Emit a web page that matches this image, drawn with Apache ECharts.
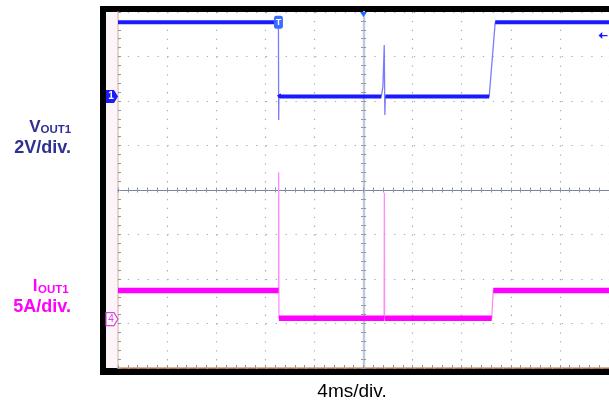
<!DOCTYPE html>
<html><head><meta charset="utf-8">
<script src="https://cdn.jsdelivr.net/npm/echarts@6/dist/echarts.min.js"></script>
<style>html,body{margin:0;padding:0;background:#fff}#c{width:609px;height:404px}</style>
</head><body><div id="c"></div>
<script>
// ---- data (time in ms, 4 ms/div, 10 div) ----
const timeRangeMs = [-20, 20];
const timeStepMs = 4;
const divRange = [-4, 4];

// Channel 1: VOUT1 (2 V/div), ground at +2.1 div
const vScalePerDiv = 2;
const vGroundDiv = 2.1;
const vTimeMs = [-20, -6.93, -6.91, -6.89, -6.80, 1.45, 1.58, 1.69, 1.74, 1.78, 10.24, 10.73, 20];
const vVolts  = [3.34, 3.34, -1.05, 0.10, 0.00, 0.00, 0.45, 2.32, -0.83, 0.00, 0.00, 3.34, 3.34];

// Channel 4: IOUT1 (5 A/div), ground at -2.9 div
const iScalePerDiv = 5;
const iGroundDiv = -2.9;
const iTimeMs = [-20, -6.92, -6.91, -6.89, 1.68, 1.70, 1.72, 10.45, 10.57, 20];
const iAmps   = [3.21, 3.21, 16.5, 0.10, 0.10, 14.2, 0.10, 0.10, 3.21, 3.21];

const triggerLevelV = 2.74;

// ---- helpers ----
const zip = (a, b) => a.map((t, k) => [t, b[k]]);
function plateaus(ts, vs, tol) {
  const out = [];
  for (let k = 0; k < ts.length - 1; k++) {
    if (Math.abs(vs[k + 1] - vs[k]) <= tol) {
      out.push([ts[k], vs[k]], [ts[k + 1], vs[k + 1]]);
    } else {
      out.push([ts[k], '-']);
    }
  }
  return out;
}
const chMin = (scale, g) => (divRange[0] - g) * scale;
const chMax = (scale, g) => (divRange[1] - g) * scale;

const gridDot = '#a4acc4';
const tickCol = '#8e96ac';

const chart = echarts.init(document.getElementById('c'), null, {renderer: 'canvas'});

const baseX = {
  type: 'value', min: timeRangeMs[0], max: timeRangeMs[1], interval: timeStepMs,
  axisLabel: {show: false}, splitLine: {show: false}
};
const baseY = {
  type: 'value', min: divRange[0], max: divRange[1], interval: 1,
  axisLabel: {show: false}, splitLine: {show: false}
};
const lblFont = 'bold 17px "Liberation Sans", Arial, sans-serif';
const divFont = 'bold 18px "Liberation Sans", Arial, sans-serif';
const subFont = 'bold 11.5px "Liberation Sans", Arial, sans-serif';

chart.setOption({
  animation: false,
  backgroundColor: '#fff',
  grid: {left: 118, top: 12, width: 493, height: 356, show: false},
  graphic: [
    {type: 'rect', z: -30, shape: {x: 100, y: 6, width: 530, height: 369}, style: {fill: '#000'}},
    {type: 'rect', z: -29, shape: {x: 106, y: 12, width: 520, height: 356}, style: {fill: '#fff'}},
    {type: 'rect', z: -28, shape: {x: 106, y: 12, width: 12, height: 356}, style: {fill: '#fcf4f9'}},
    {type: 'text', x: 40.5, y: 127, style: {text: 'V', align: 'right', verticalAlign: 'middle', font: lblFont, fill: '#2e3192'}},
    {type: 'text', x: 40.5, y: 130, style: {text: 'OUT1', align: 'left', verticalAlign: 'middle', font: subFont, fill: '#2e3192'}},
    {type: 'text', x: 71, y: 148, style: {text: '2V/div.', align: 'right', verticalAlign: 'middle', font: divFont, fill: '#2e3192'}},
    {type: 'text', x: 37.5, y: 286, style: {text: 'I', align: 'right', verticalAlign: 'middle', font: lblFont, fill: '#ff00ff'}},
    {type: 'text', x: 38, y: 289.5, style: {text: 'OUT1', align: 'left', verticalAlign: 'middle', font: subFont, fill: '#ff00ff'}},
    {type: 'text', x: 71, y: 307.5, style: {text: '5A/div.', align: 'right', verticalAlign: 'middle', font: divFont, fill: '#ff00ff'}},
    {type: 'text', x: 352, y: 392, style: {text: '4ms/div.', align: 'center', verticalAlign: 'middle', font: '19px "Liberation Sans", Arial, sans-serif', fill: '#000'}}
  ],
  xAxis: [
    Object.assign({}, baseX, {
      position: 'bottom',
      axisLine: {show: true, onZero: false, lineStyle: {color: '#d49a6a', width: 1.5}},
      axisTick: {show: true, inside: true, length: 3, lineStyle: {color: tickCol}},
      minorTick: {show: true, splitNumber: 5, length: 3, lineStyle: {color: tickCol}},
      splitLine: {show: true, lineStyle: {color: gridDot, width: 1.2, type: [1.3, 7.6]}}
    }),
    Object.assign({}, baseX, {
      position: 'bottom',
      axisLine: {show: true, onZero: true, onZeroAxisIndex: 2, lineStyle: {color: '#7d8598', width: 1}},
      axisTick: {show: true, inside: false, length: 2.5, lineStyle: {color: tickCol}},
      minorTick: {show: true, splitNumber: 5, length: 2.5, lineStyle: {color: tickCol}}
    }),
    Object.assign({}, baseX, {
      position: 'top',
      axisLine: {show: true, onZero: true, onZeroAxisIndex: 2, lineStyle: {color: '#7d8598', width: 1}},
      axisTick: {show: true, inside: false, length: 2.5, lineStyle: {color: tickCol}},
      minorTick: {show: true, splitNumber: 5, length: 2.5, lineStyle: {color: tickCol}}
    })
  ],
  yAxis: [
    {type: 'value', show: false, min: chMin(vScalePerDiv, vGroundDiv), max: chMax(vScalePerDiv, vGroundDiv)},
    {type: 'value', show: false, min: chMin(iScalePerDiv, iGroundDiv), max: chMax(iScalePerDiv, iGroundDiv)},
    Object.assign({}, baseY, {
      position: 'left',
      axisLine: {show: true, onZero: false, lineStyle: {color: '#e3c7b3', width: 1.5}},
      axisTick: {show: true, inside: true, length: 3, lineStyle: {color: tickCol}},
      minorTick: {show: true, splitNumber: 5, length: 3, lineStyle: {color: tickCol}},
      splitLine: {show: true, lineStyle: {color: gridDot, width: 1.2, type: [1.3, 8.56]}}
    }),
    Object.assign({}, baseY, {
      position: 'left',
      axisLine: {show: true, onZero: true, onZeroAxisIndex: 0, lineStyle: {color: '#c2c8dc', width: 2.2}},
      axisTick: {show: true, inside: false, length: 2.5, lineStyle: {color: tickCol}},
      minorTick: {show: true, splitNumber: 5, length: 2.5, lineStyle: {color: tickCol}}
    }),
    Object.assign({}, baseY, {
      position: 'right',
      axisLine: {show: true, onZero: true, onZeroAxisIndex: 0, lineStyle: {color: '#c2c8dc', width: 2.2}},
      axisTick: {show: true, inside: false, length: 2.5, lineStyle: {color: tickCol}},
      minorTick: {show: true, splitNumber: 5, length: 2.5, lineStyle: {color: tickCol}}
    })
  ],
  series: [
    {
      name: 'VOUT1 edges', type: 'line', xAxisIndex: 0, yAxisIndex: 0, z: 3,
      data: zip(vTimeMs, vVolts), symbol: 'none',
      lineStyle: {color: '#7b7bff', width: 1.3}
    },
    {
      name: 'VOUT1', type: 'line', xAxisIndex: 0, yAxisIndex: 0, z: 4,
      data: plateaus(vTimeMs, vVolts, 0.3), symbol: 'none', connectNulls: false,
      lineStyle: {color: '#1a1aff', width: 4},
      markPoint: {
        silent: true,
        data: [
          {coord: [vTimeMs[0], 0], symbol: 'path://M0,0 L8,0 L12,6 L8,12 L0,12 Z', symbolSize: [12, 13], symbolOffset: [-6, 0],
           itemStyle: {color: '#1a1aff'}, label: {show: true, formatter: '1', color: '#fff', fontSize: 10, fontWeight: 'bold', offset: [-1, 0]}},
          {coord: [vTimeMs[1], vVolts[1]], symbol: 'roundRect', symbolSize: [9, 13],
           itemStyle: {color: '#3b6cff'}, label: {show: true, formatter: 'T', color: '#fff', fontSize: 9, fontWeight: 'bold'}},
          {coord: [0, chMax(vScalePerDiv, vGroundDiv)], symbol: 'path://M0,0 L10,0 L5,8 Z', symbolSize: [7, 5], symbolOffset: [0, 2.5],
           itemStyle: {color: '#1a6cff'}, label: {show: false}},
          {coord: [timeRangeMs[1], triggerLevelV], symbol: 'path://M0,5 L5,0 L5,4 L12,4 L12,6 L5,6 L5,10 Z', symbolSize: [9, 7], symbolOffset: [-6, 0],
           itemStyle: {color: '#1a1aff'}, label: {show: false}}
        ]
      }
    },
    {
      name: 'IOUT1 edges', type: 'line', xAxisIndex: 0, yAxisIndex: 1, z: 3,
      data: zip(iTimeMs, iAmps), symbol: 'none',
      lineStyle: {color: '#ff8cff', width: 1.3}
    },
    {
      name: 'IOUT1', type: 'line', xAxisIndex: 0, yAxisIndex: 1, z: 4,
      data: plateaus(iTimeMs, iAmps, 0.3), symbol: 'none', connectNulls: false,
      lineStyle: {color: '#ff00ff', width: 5.5},
      markPoint: {
        silent: true,
        data: [
          {coord: [iTimeMs[0], 0], symbol: 'path://M0,0 L8,0 L12,6 L8,12 L0,12 Z', symbolSize: [12, 13], symbolOffset: [-6, 0],
           itemStyle: {color: '#fff', borderColor: '#e040e0', borderWidth: 1.2}, label: {show: true, formatter: '4', color: '#e040e0', fontSize: 10, offset: [-1, 0]}}
        ]
      }
    }
  ]
});
</script>
</body></html>
